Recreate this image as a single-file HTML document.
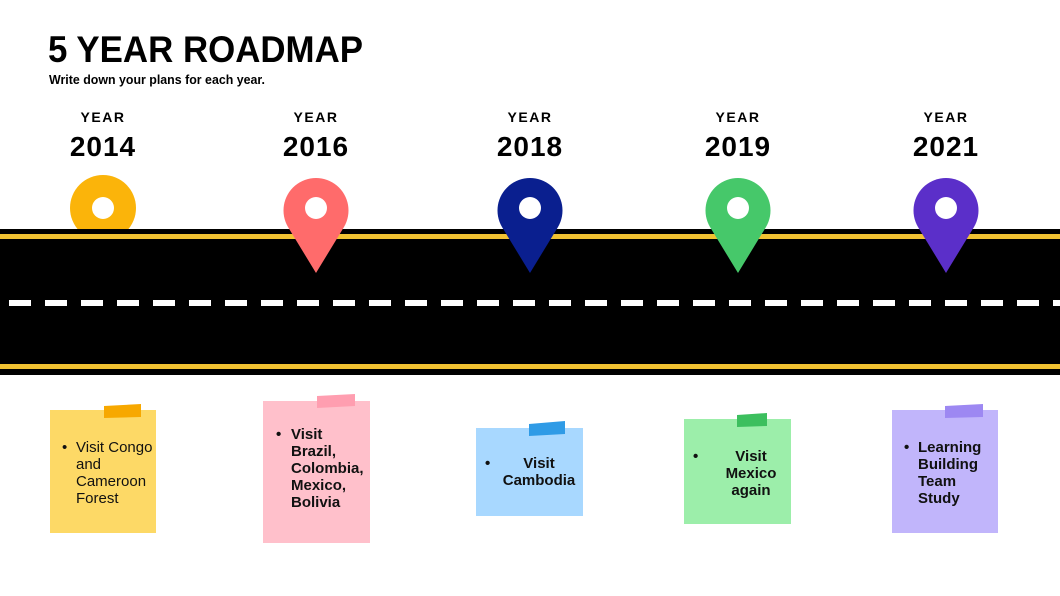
<!DOCTYPE html>
<html><head><meta charset="utf-8"><style>
html,body{margin:0;padding:0;background:#fff;}
svg{display:block;}
text{font-family:"Liberation Sans",sans-serif;}
</style></head><body>
<svg width="1060" height="596" viewBox="0 0 1060 596" xmlns="http://www.w3.org/2000/svg">
<text x="48" y="62" font-size="37" font-weight="bold" fill="#000" textLength="315" lengthAdjust="spacingAndGlyphs">5 YEAR ROADMAP</text>
<text x="49" y="84" font-size="13" font-weight="bold" fill="#000" textLength="216" lengthAdjust="spacingAndGlyphs">Write down your plans for each year.</text>
<g font-weight="bold" text-anchor="middle" fill="#000">
<text x="103" y="122" font-size="14" letter-spacing="1.5">YEAR</text><text x="103" y="156" font-size="28" letter-spacing="1">2014</text>
<text x="316" y="122" font-size="14" letter-spacing="1.5">YEAR</text><text x="316" y="156" font-size="28" letter-spacing="1">2016</text>
<text x="530" y="122" font-size="14" letter-spacing="1.5">YEAR</text><text x="530" y="156" font-size="28" letter-spacing="1">2018</text>
<text x="738" y="122" font-size="14" letter-spacing="1.5">YEAR</text><text x="738" y="156" font-size="28" letter-spacing="1">2019</text>
<text x="946" y="122" font-size="14" letter-spacing="1.5">YEAR</text><text x="946" y="156" font-size="28" letter-spacing="1">2021</text>
</g>
<circle cx="103" cy="208" r="33" fill="#fbb40a"/>
<rect x="0" y="229" width="1060" height="146" fill="#000"/>
<rect x="0" y="234" width="1060" height="5" fill="#f1c232"/>
<rect x="0" y="364" width="1060" height="5" fill="#f1c232"/>
<line x1="9" y1="303" x2="1060" y2="303" stroke="#fff" stroke-width="6" stroke-dasharray="22 14"/>
<circle cx="103" cy="208" r="11" fill="#fff"/>
<g>
<path d="M316,273 L288,227 A32.5,32.5 0 1 1 344,227 Z" fill="#ff6b6b"/><circle cx="316" cy="208" r="11" fill="#fff"/>
<path d="M530,273 L502,227 A32.5,32.5 0 1 1 558,227 Z" fill="#0a1f8f"/><circle cx="530" cy="208" r="11" fill="#fff"/>
<path d="M738,273 L710,227 A32.5,32.5 0 1 1 766,227 Z" fill="#46c86a"/><circle cx="738" cy="208" r="11" fill="#fff"/>
<path d="M946,273 L918,227 A32.5,32.5 0 1 1 974,227 Z" fill="#5b2fc9"/><circle cx="946" cy="208" r="11" fill="#fff"/>
</g>
<rect x="50" y="410" width="106" height="123" fill="#fdd966"/>
<polygon points="104,406 141,404 141,417 104,418" fill="#f7a800"/>
<rect x="263" y="401" width="107" height="142" fill="#ffc0cb"/>
<polygon points="317,396 355,394 355,406 317,408" fill="#ff9eb0"/>
<rect x="476" y="428" width="107" height="88" fill="#a8d8ff"/>
<polygon points="529,424 565,421 565,434 529,436" fill="#2f9be6"/>
<rect x="684" y="419" width="107" height="105" fill="#9ceeaa"/>
<polygon points="737,415 767,413 767,426 737,427" fill="#3cbf5e"/>
<rect x="892" y="410" width="106" height="123" fill="#c1b5fb"/>
<polygon points="945,406 983,404 983,417 945,418" fill="#9d88f2"/>
<g font-size="15" fill="#111">
<text x="62" y="452">•</text>
<text x="76" y="452">Visit Congo</text><text x="76" y="469">and</text><text x="76" y="486">Cameroon</text><text x="76" y="503">Forest</text>
<g font-weight="bold">
<text x="276" y="439">•</text>
<text x="291" y="439">Visit</text><text x="291" y="456">Brazil,</text><text x="291" y="473">Colombia,</text><text x="291" y="490">Mexico,</text><text x="291" y="507">Bolivia</text>
<text x="485" y="468">•</text>
<text x="539" y="468" text-anchor="middle">Visit</text><text x="539" y="485" text-anchor="middle">Cambodia</text>
<text x="693" y="461">•</text>
<text x="751" y="461" text-anchor="middle">Visit</text><text x="751" y="478" text-anchor="middle">Mexico</text><text x="751" y="495" text-anchor="middle">again</text>
<text x="904" y="452">•</text>
<text x="918" y="452">Learning</text><text x="918" y="469">Building</text><text x="918" y="486">Team</text><text x="918" y="503">Study</text>
</g></g>
</svg>
</body></html>
